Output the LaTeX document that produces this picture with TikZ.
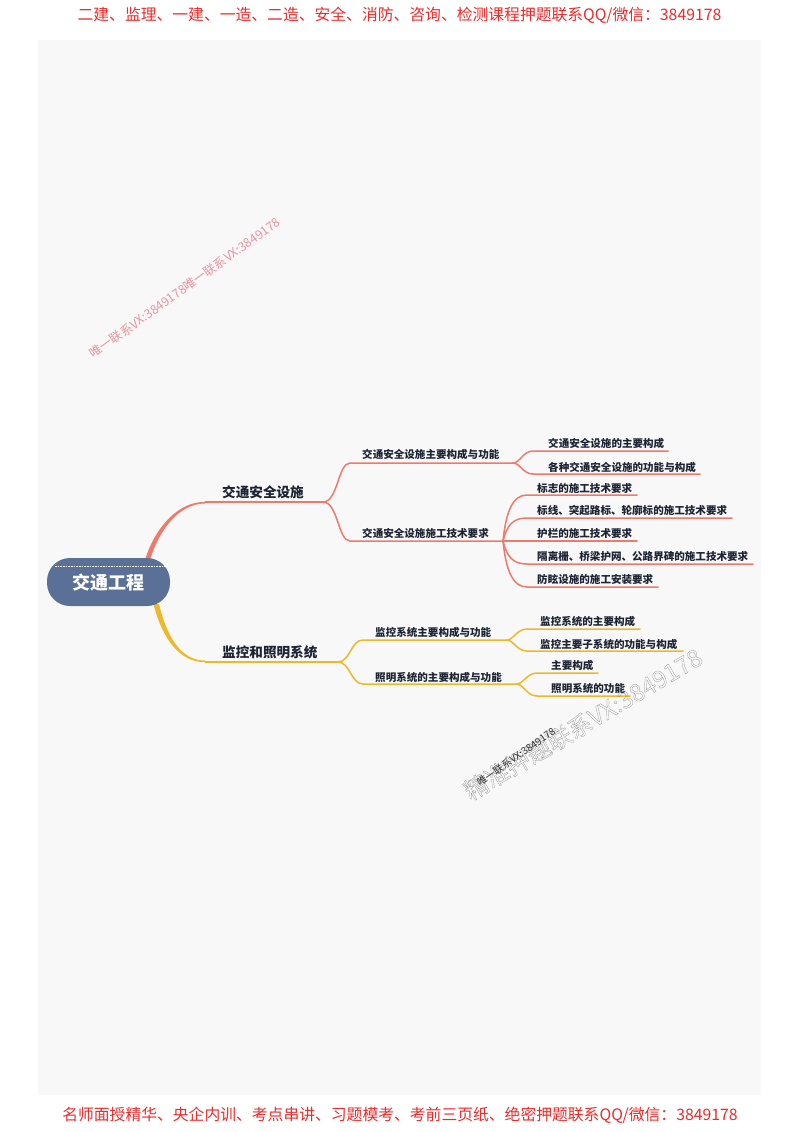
\documentclass[tikz,border=0pt]{standalone}
\usepackage{fontspec}
\setmainfont{Noto Sans CJK SC}
\newfontfamily\cjk{Noto Sans CJK SC}
\usetikzlibrary{calc}
\definecolor{panel}{HTML}{F8F8F8}
\definecolor{rootc}{HTML}{5A7096}
\definecolor{redl}{HTML}{EE7A6C}
\definecolor{yell}{HTML}{EDB82A}
\definecolor{ink}{HTML}{1C2433}
\definecolor{ad}{HTML}{EE2A2A}
\definecolor{pinkw}{HTML}{E8939E}
\tikzset{
  lbl/.style={inner sep=0pt,anchor=west,text=ink,font=\cjk\fontsize{10.55}{12}\selectfont\bfseries},
  mainlbl/.style={inner sep=0pt,anchor=west,text=ink,font=\cjk\fontsize{13.6}{15}\selectfont\bfseries},
  adtext/.style={inner sep=0pt,text=ad,font=\cjk\fontsize{15.8}{18}\selectfont},
  rl/.style={draw=redl,line width=1.5pt,line cap=round},
  yl/.style={draw=yell,line width=1.5pt,line cap=round},
  rootbox/.style={draw=none,fill=rootc,rounded corners=23pt,minimum width=123pt,minimum height=48pt,inner sep=0pt},
}
\begin{document}
\begin{tikzpicture}[x=1pt,y=-1pt]
\useasboundingbox (0,0) rectangle (800,1132);
\fill[white] (0,0) rectangle (800,1132);
\fill[panel] (38,40) rectangle (761,1095);

% named joints
\coordinate (r1a) at (145,560); \coordinate (r1b) at (150,560);
\coordinate (r2a) at (153.5,604); \coordinate (r2b) at (159,604);
\coordinate (b1) at (205,502); \coordinate (b1e) at (323,502);
\coordinate (b2) at (205,662); \coordinate (b2e) at (338,662);
\coordinate (s1) at (350,463); \coordinate (s1e) at (513,463);
\coordinate (s2) at (350,541); \coordinate (s2e) at (503,541);
\coordinate (s3) at (363,640); \coordinate (s3e) at (507,640);
\coordinate (s4) at (363,684); \coordinate (s4e) at (517,684);
\coordinate (a1) at (533,451); \coordinate (a1e) at (668,451);
\coordinate (a2) at (533,474); \coordinate (a2e) at (700,474);
\coordinate (c1) at (527,495); \coordinate (c1e) at (637,495);
\coordinate (c2) at (527,518); \coordinate (c2e) at (732,518);
\coordinate (c3e) at (637,541);
\coordinate (c4) at (527,564); \coordinate (c4e) at (753,564);
\coordinate (c5) at (527,587); \coordinate (c5e) at (658,587);
\coordinate (d1) at (527,629); \coordinate (d1e) at (640,629);
\coordinate (d2) at (527,651); \coordinate (d2e) at (683,651);
\coordinate (e1) at (537,673); \coordinate (e1e) at (598,673);
\coordinate (e2) at (537,696); \coordinate (e2e) at (630,696);

% tapered main branches
\fill[redl] (r1a) .. controls +(10,-33) and +(-26,-0.8) .. (b1) -- ($(b1)+(0,1.5)$) .. controls +(-26,0) and +(9,-30) .. (r1b) -- cycle;
\fill[yell] (r2a) .. controls +(9,36) and +(-24,0.8) .. (b2) -- ($(b2)+(0,-1.5)$) .. controls +(-24,0) and +(8,33) .. (r2b) -- cycle;
\draw[rl] (b1) -- (b1e);
\draw[yl] (b2) -- (b2e);

% second level
\draw[rl] (b1e) .. controls +(15,0) and +(-12,0) .. (s1) -- (s1e);
\draw[rl] (b1e) .. controls +(15,0) and +(-12,0) .. (s2) -- (s2e);
\draw[yl] (b2e) .. controls +(12,0) and +(-12,0) .. (s3) -- (s3e);
\draw[yl] (b2e) .. controls +(12,0) and +(-12,0) .. (s4) -- (s4e);

% leaves
\draw[rl] (s1e) .. controls +(7,0) and +(-10,0) .. (a1) -- (a1e);
\draw[rl] (s1e) .. controls +(7,0) and +(-10,0) .. (a2) -- (a2e);
\draw[rl] (s2e) .. controls +(3,-30) and +(-14,0) .. (c1) -- (c1e);
\draw[rl] (s2e) .. controls +(4,-16) and +(-14,0) .. (c2) -- (c2e);
\draw[rl] (s2e) -- (c3e);
\draw[rl] (s2e) .. controls +(4,16) and +(-14,0) .. (c4) -- (c4e);
\draw[rl] (s2e) .. controls +(3,30) and +(-14,0) .. (c5) -- (c5e);
\draw[yl] (s3e) .. controls +(6,0) and +(-10,0) .. (d1) -- (d1e);
\draw[yl] (s3e) .. controls +(6,0) and +(-10,0) .. (d2) -- (d2e);
\draw[yl] (s4e) .. controls +(6,0) and +(-10,0) .. (e1) -- (e1e);
\draw[yl] (s4e) .. controls +(6,0) and +(-10,0) .. (e2) -- (e2e);

% root
\node[rootbox] (root) at (108.5,582) {};
\draw[white,line width=0.6pt,densely dotted] ($(root.north west)+(8,8)$) -- ($(root.north east)+(-6,8)$);
\node[inner sep=0pt,text=white,font=\cjk\fontsize{18}{20}\selectfont\bfseries] (roott) at (108,582.5) {交通工程};

% labels
\node[mainlbl] (m1) at (222,492) {交通安全设施};
\node[mainlbl] (m2) at (222,652) {监控和照明系统};
\node[lbl] (t1) at (362,454) {交通安全设施主要构成与功能};
\node[lbl] (t2) at (362,533) {交通安全设施施工技术要求};
\node[lbl] (t3) at (375,632) {监控系统主要构成与功能};
\node[lbl] (t4) at (375,677) {照明系统的主要构成与功能};
\node[lbl] (l1) at (548,443) {交通安全设施的主要构成};
\node[lbl] (l2) at (548,467) {各种交通安全设施的功能与构成};
\node[lbl] (l3) at (537,488) {标志的施工技术要求};
\node[lbl] (l4) at (537,511) {标线、突起路标、轮廓标的施工技术要求};
\node[lbl] (l5) at (537,533) {护栏的施工技术要求};
\node[lbl] (l6) at (537,556) {隔离栅、桥梁护网、公路界碑的施工技术要求};
\node[lbl] (l7) at (537,579) {防眩设施的施工安装要求};
\node[lbl] (l8) at (540,621) {监控系统的主要构成};
\node[lbl] (l9) at (540,644) {监控主要子系统的功能与构成};
\node[lbl] (l10) at (551,665) {主要构成};
\node[lbl] (l11) at (551,688) {照明系统的功能};

% watermarks
\node[inner sep=0pt,text=pinkw,rotate=35.6,font=\cjk\fontsize{12.4}{14}\selectfont] (w1) at (185,288) {唯一联系VX:3849178唯一联系VX:3849178};
\node[inner sep=0pt,text=black!50,rotate=30.6,font=\cjk\fontsize{24}{26}\selectfont] (w2) at (583,724) {\special{pdf:code 1 Tr 0.2 w}精准押题联系VX:3849178\special{pdf:code 0 Tr}};
\node[inner sep=0pt,text=black!80,rotate=35,font=\cjk\fontsize{10}{12}\selectfont] (w3) at (516,757) {唯一联系VX:3849178};

% header and footer
\node[adtext] (hd) at (399.5,15) {二建、监理、一建、一造、二造、安全、消防、咨询、检测课程押题联系QQ/微信：3849178};
\node[adtext] (ft) at (400,1115) {名师面授精华、央企内训、考点串讲、习题模考、考前三页纸、绝密押题联系QQ/微信：3849178};
\end{tikzpicture}
\end{document}
